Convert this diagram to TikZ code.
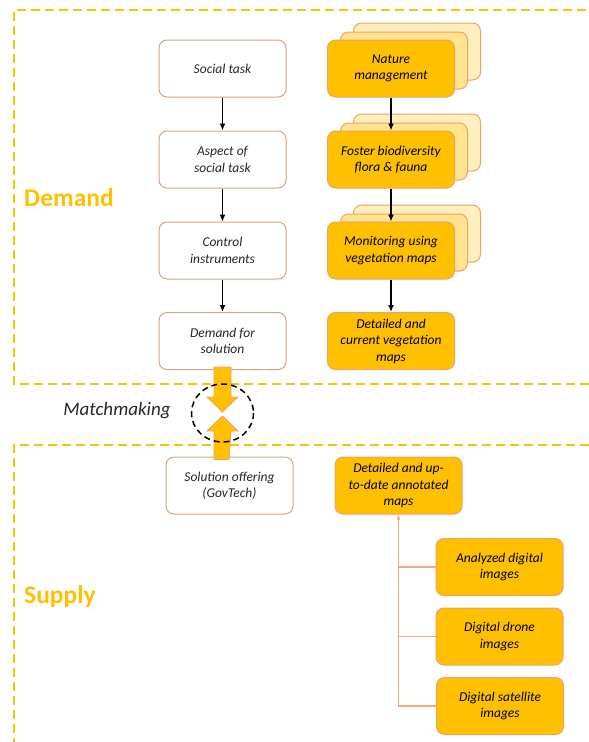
\documentclass[tikz,border=0pt]{standalone}
\usepackage{fontspec}
\setmainfont{Carlito}
\usetikzlibrary{arrows.meta,calc}
\definecolor{gold}{HTML}{FFC000}
\definecolor{goldmid}{HTML}{FFE38F}
\definecolor{goldlight}{HTML}{FFEFBF}
\definecolor{oborder}{HTML}{EDA267}
\definecolor{wborder}{HTML}{DFA07C}
\definecolor{tgray}{HTML}{262626}
\definecolor{connc}{HTML}{F4A97A}
\tikzset{
  basebox/.style={rounded corners=8pt, minimum width=127pt, minimum height=57pt, align=center,
    font=\fontsize{13.5}{16.5}\selectfont\itshape, line width=1pt, inner sep=2pt},
  wbox/.style={basebox, draw=wborder, fill=white, text=tgray},
  obox/.style={basebox, draw=oborder, fill=gold, text=black},
  shmid/.style={basebox, draw=oborder, fill=goldmid},
  shback/.style={basebox, draw=oborder, fill=goldlight},
  flow/.style={-{Latex[length=7pt,width=6pt]}, line width=1.8pt, black},
  conn/.style={line width=1.2pt, draw=connc},
  zone/.style={draw=gold, line width=2pt, dash pattern=on 9pt off 5pt},
  zonelabel/.style={text=gold, font=\fontsize{25.5}{28}\selectfont\bfseries, anchor=west, inner sep=0pt},
  blockarrow/.style={fill=gold, draw=oborder, line width=0.8pt}
}
\begin{document}
\begin{tikzpicture}[x=1pt,y=-1pt]
\useasboundingbox (0,0) rectangle (589,742);
% zones
\draw[zone] (589,384) -- (14,384) -- (14,10) -- (589,10);
\draw[zone] (589,445) -- (14,445) -- (14,742);
\node[zonelabel] (demandlbl) at (24,198) {Demand};
\node[zonelabel] (supplylbl) at (24,597) {Supply};

% left column
\node[wbox] (l1) at (222.5,68.5) {Social task};
\node[wbox] (l2) at (222.5,159.5) {Aspect of\\social task};
\node[wbox] (l3) at (222.5,250.5) {Control\\instruments};
\node[wbox] (l4) at (222.5,341) {Demand for\\solution};

% right column stacks
\node[shback] (r1b) at (417,51.5) {};
\node[shmid] (r1m) at (404,60.5) {};
\node[obox] (r1) at (391,68.5) {Nature\\management};
\node[shback] (r2b) at (417,142.5) {};
\node[shmid] (r2m) at (404,151.5) {};
\node[obox] (r2) at (391,159.5) {Foster biodiversity\\flora \& fauna};
\node[shback] (r3b) at (417,233.5) {};
\node[shmid] (r3m) at (404,242.5) {};
\node[obox] (r3) at (391,250.5) {Monitoring using\\vegetation maps};
\node[obox] (r4) at (391,341) {Detailed and\\current vegetation\\maps};

\draw[flow] (l1) -- (l2);
\draw[flow] (l2) -- (l3);
\draw[flow] (l3) -- (l4);
\draw[flow] (r1) -- (r2);
\draw[flow] (r2) -- (r3);
\draw[flow] (r3) -- (r4);

% supply
\node[wbox] (sol) at (229.5,485.5) {Solution offering\\(GovTech)};
\node[obox] (map) at (398.5,485.5) {Detailed and up-\\to-date annotated\\maps};
\node[obox] (ana) at (499.5,567) {Analyzed digital\\images};
\node[obox] (dro) at (499.5,636.5) {Digital drone\\images};
\node[obox] (sat) at (500,706) {Digital satellite\\images};

\draw[conn, -{Latex[length=5pt,width=4pt]}] (sat.west) -- (sat.west -| map.south) -- (map.south);
\draw[conn] (ana.west) -- (ana.west -| map.south);
\draw[conn] (dro.west) -- (dro.west -| map.south);

% matchmaking
\node[font=\fontsize{19}{22}\selectfont\itshape, text=tgray] (mm) at (117,411) {Matchmaking};
\coordinate (mc) at (222.5,413);
\draw[blockarrow] ($(l4.south)+(-8.5,-3)$) -- ($(mc)+(-8.5,-16)$) -- ($(mc)+(-15.5,-16)$) -- ($(mc)+(0,-1)$)
  -- ($(mc)+(15.5,-16)$) -- ($(mc)+(8.5,-16)$) -- ($(l4.south)+(8.5,-3)$) -- cycle;
\draw[blockarrow] ($(sol.north)+(-15.5,3)$) -- ($(mc)+(-8.5,18)$) -- ($(mc)+(-15.5,18)$) -- ($(mc)+(0,3)$)
  -- ($(mc)+(15.5,18)$) -- ($(mc)+(8.5,18)$) -- ($(sol.north)+(-0.5,3)$) -- cycle;
\draw[black, line width=1.5pt, dash pattern=on 6pt off 4pt] (mc) ellipse [x radius=31, y radius=29];
\end{tikzpicture}
\end{document}
